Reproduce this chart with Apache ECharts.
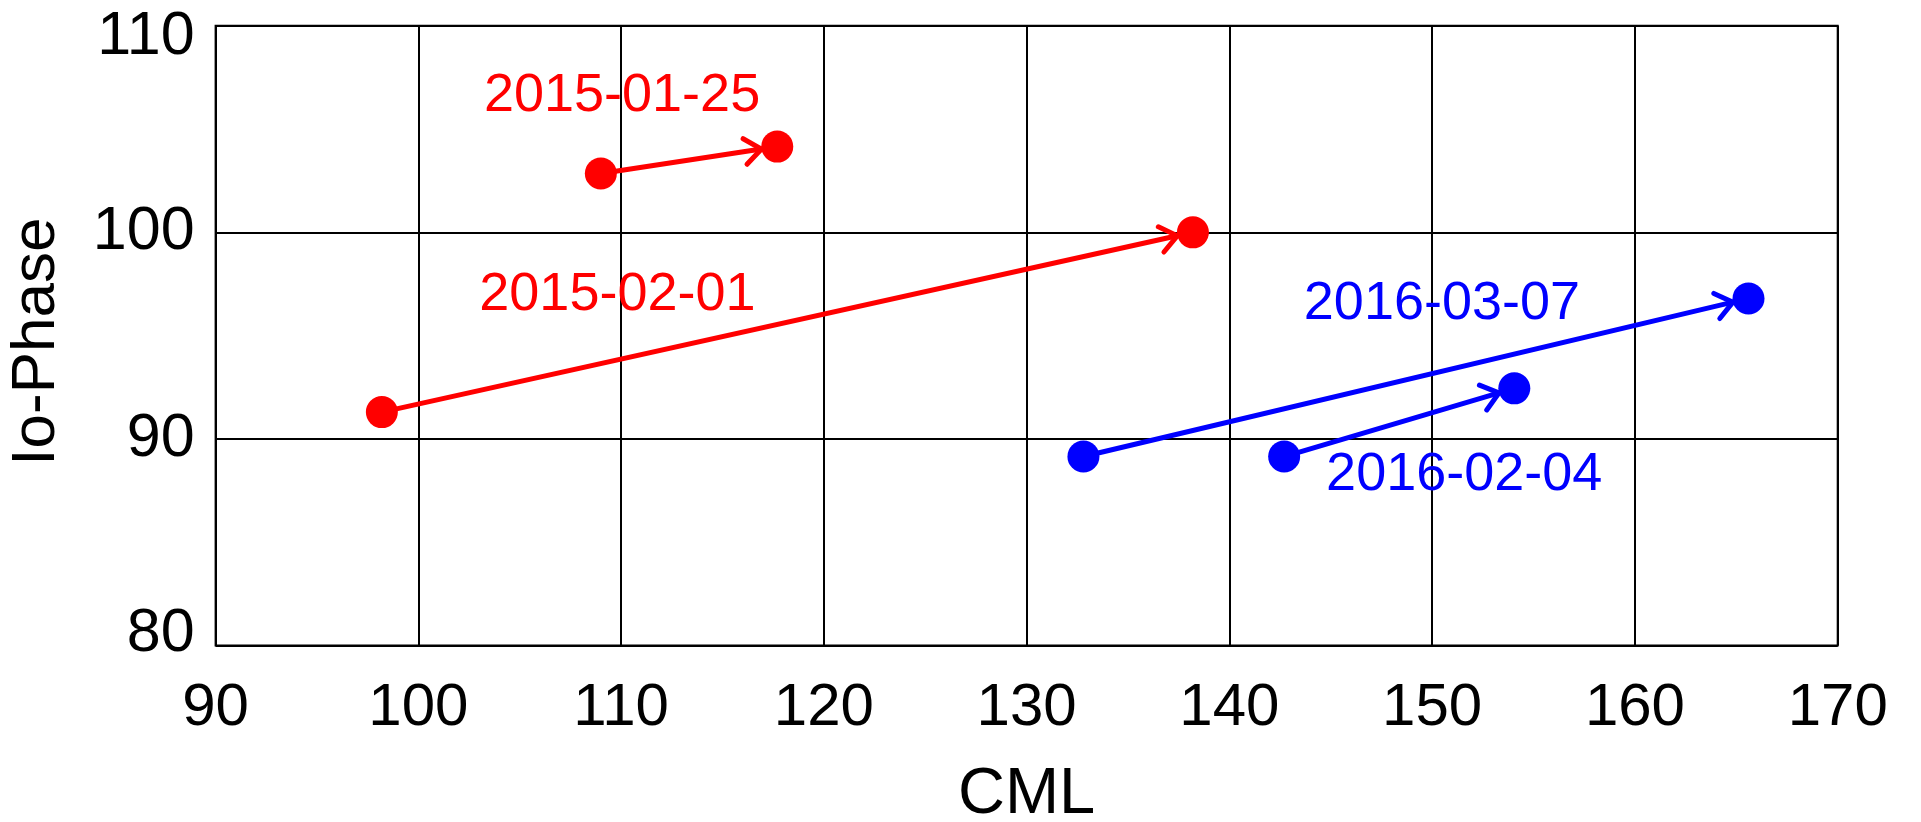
<!DOCTYPE html>
<html>
<head>
<meta charset="utf-8">
<script src="https://cdn.jsdelivr.net/npm/echarts@6/dist/echarts.min.js"></script>
<style>
html,body{margin:0;padding:0;background:#fff;}
#chart{width:1921px;height:822px;}
</style>
</head>
<body>
<div id="chart"></div>
<script>
// ---- data ----
const dates      = ['2015-01-25', '2015-02-01', '2016-03-07', '2016-02-04'];
const startCML   = [109.0, 98.2, 132.8, 142.7];
const startPhase = [102.85, 91.3, 89.15, 89.15];
const endCML     = [117.7, 138.2, 165.6, 154.05];
const endPhase   = [104.15, 100.0, 96.8, 92.45];
const xTicks = [90, 100, 110, 120, 130, 140, 150, 160, 170];
const yTicks = [80, 90, 100, 110];

// ---- styling ----
const FONT = 'Liberation Sans, Arial, sans-serif';
function colorOf(d) { return d.startsWith('2015') ? '#ff0000' : '#0000ff'; }
// label offsets (px) relative to the arrow midpoint
const labelOffset = {
  '2015-01-25': [-67, -64],
  '2015-02-01': [-170, -27],
  '2016-03-07': [26, -73],
  '2016-02-04': [65, 53]
};

const arrowData = dates.map((d, i) => [startCML[i], startPhase[i], endCML[i], endPhase[i], i]);
const pointData = [];
dates.forEach((d, i) => {
  pointData.push({ value: [startCML[i], startPhase[i]], itemStyle: { color: colorOf(d) } });
  pointData.push({ value: [endCML[i], endPhase[i]], itemStyle: { color: colorOf(d) } });
});

const yMin = yTicks[0], yMax = yTicks[yTicks.length - 1];

const chart = echarts.init(document.getElementById('chart'), null, { renderer: 'canvas' });
chart.setOption({
  animation: false,
  backgroundColor: '#ffffff',
  grid: { left: 215.6, right: 83.3, top: 25.7, bottom: 176.4, containLabel: false, outerBoundsMode: 'none',
          show: true, borderColor: '#000', borderWidth: 2, backgroundColor: 'transparent' },
  xAxis: {
    type: 'value', min: xTicks[0], max: xTicks[xTicks.length - 1], interval: 10,
    name: 'CML', nameLocation: 'middle', nameGap: 117,
    nameTextStyle: { fontSize: 65, color: '#000', fontFamily: FONT },
    axisLine: { show: false }, axisTick: { show: false },
    axisLabel: { fontSize: 60, color: '#000', fontFamily: FONT, margin: 33 },
    splitLine: { show: true, lineStyle: { color: '#000', width: 2 } }
  },
  yAxis: {
    type: 'value', min: yMin, max: yMax, interval: 10,
    name: 'Io-Phase', nameLocation: 'middle', nameGap: 148,
    nameTextStyle: { fontSize: 62, color: '#000', fontFamily: FONT, padding: [0, 12, 0, 0] },
    axisLine: { show: false }, axisTick: { show: false },
    axisLabel: {
      fontSize: 61, color: '#000', fontFamily: FONT, margin: 21,
      formatter: function (v) {
        if (v === yMax) return '{top|' + v + '}';
        if (v === yMin) return '{bot|' + v + '}';
        return '{n|' + v + '}';
      },
      rich: {
        n: { fontSize: 61, fontFamily: FONT, color: '#000' },
        top: { fontSize: 61, fontFamily: FONT, color: '#000', padding: [22, 0, 0, 0] },
        bot: { fontSize: 61, fontFamily: FONT, color: '#000', padding: [0, 0, 22, 0] }
      }
    },
    splitLine: { show: true, lineStyle: { color: '#000', width: 2 } }
  },
  series: [
    {
      type: 'custom',
      coordinateSystem: 'cartesian2d',
      encode: { x: [0, 2], y: [1, 3] },
      data: arrowData,
      z: 2,
      renderItem: function (params, api) {
        const i = api.value(4);
        const d = dates[i];
        const c = colorOf(d);
        const p0 = api.coord([api.value(0), api.value(1)]);
        const p1 = api.coord([api.value(2), api.value(3)]);
        const dx = p1[0] - p0[0], dy = p1[1] - p0[1];
        const len = Math.sqrt(dx * dx + dy * dy);
        const ux = dx / len, uy = dy / len;
        const r = 16;
        const tip = [p1[0] - ux * r, p1[1] - uy * r];
        const armLen = 21, ang = 38 * Math.PI / 180;
        const ca = Math.cos(ang), sa = Math.sin(ang);
        const a1 = [tip[0] - armLen * (ux * ca - uy * sa), tip[1] - armLen * (uy * ca + ux * sa)];
        const a2 = [tip[0] - armLen * (ux * ca + uy * sa), tip[1] - armLen * (uy * ca - ux * sa)];
        const mid = [(p0[0] + p1[0]) / 2, (p0[1] + p1[1]) / 2];
        const off = labelOffset[d];
        const ls = { stroke: c, lineWidth: 5, lineCap: 'round' };
        return {
          type: 'group',
          children: [
            { type: 'line', shape: { x1: p0[0], y1: p0[1], x2: tip[0], y2: tip[1] }, style: ls },
            { type: 'polyline', shape: { points: [a1, tip, a2] }, style: Object.assign({ fill: null, lineJoin: 'miter' }, ls) },
            { type: 'text', x: mid[0] + off[0], y: mid[1] + off[1],
              style: { text: d, fill: c, font: '54px ' + FONT, align: 'center', verticalAlign: 'middle' } }
          ]
        };
      }
    },
    {
      type: 'scatter',
      data: pointData,
      symbol: 'circle',
      symbolSize: 32,
      itemStyle: { opacity: 1 },
      z: 3
    }
  ]
});
</script>
</body>
</html>
